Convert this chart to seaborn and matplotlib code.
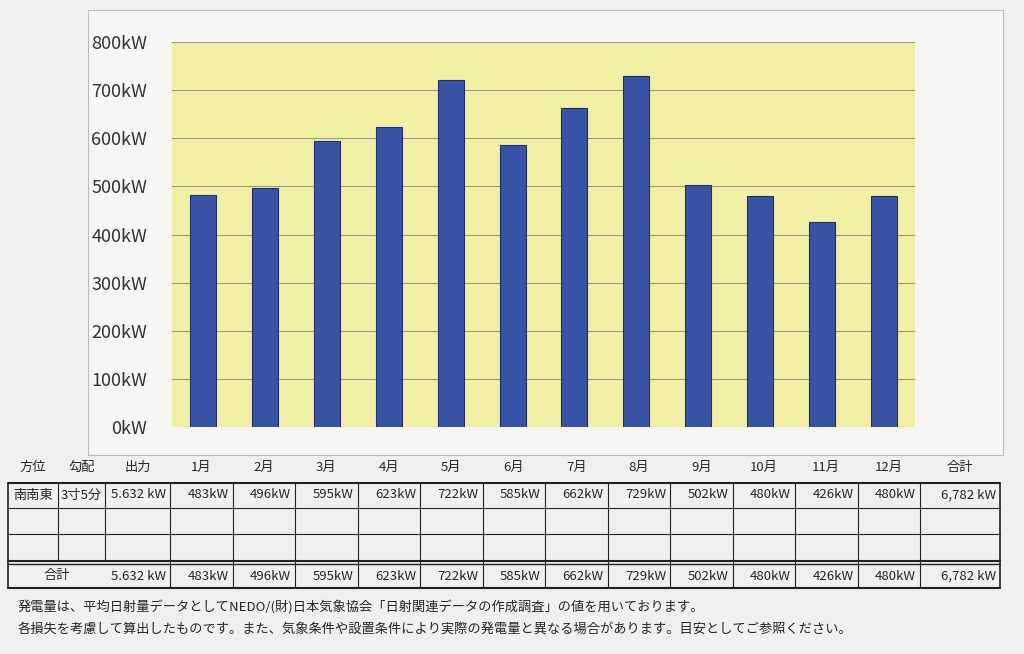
import matplotlib
matplotlib.use("Agg")
import matplotlib.pyplot as plt
import seaborn as sns
import pandas as pd
from matplotlib.lines import Line2D
from matplotlib.patches import Rectangle

months = ["1月","2月","3月","4月","5月","6月","7月","8月","9月","10月","11月","12月"]
values = [483, 496, 595, 623, 722, 585, 662, 729, 502, 480, 426, 480]
yticks = [0, 100, 200, 300, 400, 500, 600, 700, 800]
direction = "南南東"
pitch = "3寸5分"
output = "5.632 kW"
total = "6,782 kW"
notes = ["発電量は、平均日射量データとしてNEDO/(財)日本気象協会「日射関連データの作成調査」の値を用いております。",
         "各損失を考慮して算出したものです。また、気象条件や設置条件により実際の発電量と異なる場合があります。目安としてご参照ください。"]

sns.set_theme(style="white")
plt.rcParams['font.family'] = ['Noto Sans CJK JP', 'DejaVu Sans']

W, H = 1024, 654
fig = plt.figure(figsize=(10.24, 6.54), dpi=100, facecolor="#f0f0ee")
fig.add_artist(Rectangle((88/W, 1-455/H), (1003-88)/W, (455-10)/H, transform=fig.transFigure,
                         facecolor="#f7f7f5", edgecolor="#bbbbbb", lw=0.8, zorder=0))
ax = fig.add_axes([172/W, 1-427/H, (915-172)/W, (427-42)/H])
df = pd.DataFrame({"m": months, "v": values})
sns.barplot(data=df, x="m", y="v", ax=ax, color="#3853a6", width=0.42,
            edgecolor="#1f2f70", linewidth=0.8, saturation=1)
ax.set_facecolor("#f2f0a4")
ax.set_ylim(0, 800)
ax.set_xlim(-0.5, 11.5)
ax.set_yticks(yticks)
ax.set_yticklabels([f"{v}kW" for v in yticks], fontsize=13, color="#333")
ax.set_xticks([])
ax.set_xlabel(""); ax.set_ylabel("")
for y in yticks[1:]:
    ax.axhline(y, color="#9a9a80", lw=0.8, zorder=0)
for s in ax.spines.values():
    s.set_visible(False)
ax.tick_params(axis="y", length=0, pad=18)

def px(x): return x / W
def py(y): return 1 - y / H
def hline(y, x0, x1, lw=1.0):
    fig.add_artist(Line2D([px(x0), px(x1)], [py(y), py(y)], color="#222", lw=lw))
def vline(x, y0, y1, lw=1.0):
    fig.add_artist(Line2D([px(x), px(x)], [py(y0), py(y1)], color="#222", lw=lw))

colx = [8, 58, 105, 170] + [170 + 62.5 * (i + 1) for i in range(12)] + [1000]
hdr = ["方位", "勾配", "出力"] + months + ["合計"]
for i, t in enumerate(hdr):
    fig.text(px((colx[i] + colx[i + 1]) / 2), py(467), t, ha="center", va="center", fontsize=9.5)

hline(483, 8, 1000, 1.5)
hline(508, 8, 1000, 0.8)
hline(534, 8, 1000, 0.8)
hline(561, 8, 1000, 1.5)
hline(564, 8, 1000, 1.0)
hline(588, 8, 1000, 1.5)
for i, x in enumerate(colx):
    if 0 < i < 3:
        vline(x, 483, 561, 0.8)
    else:
        vline(x, 483, 588, 1.2 if i in (0, len(colx) - 1) else 0.8)

row1 = [direction, pitch, output] + [f"{v}kW" for v in values] + [total]
for i, t in enumerate(row1):
    xc = colx[i + 1] - 4 if i >= 2 else (colx[i] + colx[i + 1]) / 2
    fig.text(px(xc), py(495), t, ha="right" if i >= 2 else "center", va="center", fontsize=9.5)
fig.text(px((8 + 105) / 2), py(576), "合計", ha="center", va="center", fontsize=9.5)
row2 = [output] + [f"{v}kW" for v in values] + [total]
for j, t in enumerate(row2):
    i = j + 2
    fig.text(px(colx[i + 1] - 4), py(576), t, ha="right", va="center", fontsize=9.5)

fig.text(px(18), py(607), notes[0], ha="left", va="center", fontsize=9.5)
fig.text(px(18), py(629), notes[1], ha="left", va="center", fontsize=9.5)

fig.savefig("out.png", dpi=100, facecolor=fig.get_facecolor())
